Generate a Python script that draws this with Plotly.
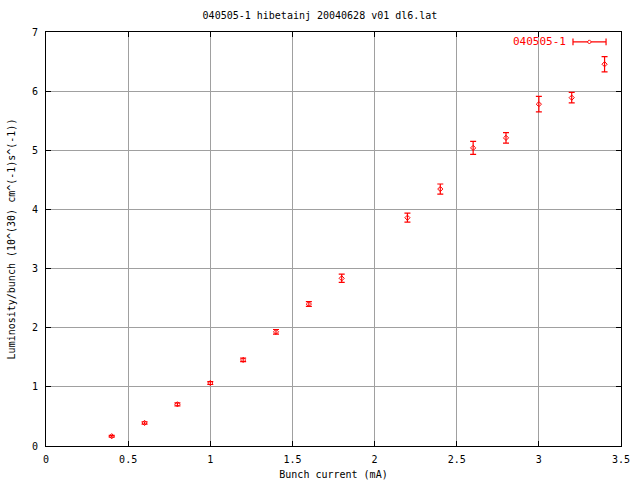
import plotly.graph_objects as go

current = [0.4, 0.6, 0.8, 1.0, 1.2, 1.4, 1.6, 1.8, 2.2, 2.4, 2.6, 2.8, 3.0, 3.2, 3.4]
lumi = [0.165, 0.39, 0.705, 1.065, 1.455, 1.93, 2.40, 2.835, 3.86, 4.345, 5.04, 5.21, 5.78, 5.89, 6.455]
err = [0.015, 0.02, 0.025, 0.025, 0.03, 0.04, 0.04, 0.07, 0.076, 0.085, 0.11, 0.09, 0.13, 0.09, 0.13]

xticks = [0, 0.5, 1, 1.5, 2, 2.5, 3, 3.5]
yticks = [0, 1, 2, 3, 4, 5, 6, 7]

FONT = "DejaVu Sans Mono"
RED = "#ff0000"

fig = go.Figure()
fig.add_trace(go.Scatter(
    x=current, y=lumi, mode="markers", name="040505-1",
    marker=dict(symbol="diamond-open", size=4, color=RED, line=dict(width=1, color=RED)),
    error_y=dict(type="data", array=err, visible=True, color=RED, thickness=1.2, width=3),
    showlegend=False, cliponaxis=False,
))

axis_common = dict(
    showline=True, linecolor="black", linewidth=1, mirror="ticks",
    ticks="inside", ticklen=5, tickcolor="black", automargin=False,
    showgrid=True, gridcolor="#a0a0a0", gridwidth=1, zeroline=False,
    tickfont=dict(family=FONT, size=10, color="black"),
)
fig.update_xaxes(range=[0, 3.5], tickvals=xticks, ticktext=[str(t) for t in xticks],
                 ticklabelstandoff=4,
                 title=dict(text="Bunch current (mA)", font=dict(family=FONT, size=10, color="black"), standoff=6),
                 **axis_common)
fig.update_yaxes(range=[0, 7], tickvals=yticks, ticktext=[str(t) for t in yticks],
                 ticklabelstandoff=5,
                 title=dict(text="Luminosity/bunch (10^(30) cm^(-1)s^(-1))", font=dict(family=FONT, size=10, color="black"), standoff=14),
                 **axis_common)

# legend-like key (gnuplot style: text then sample)
ly = 0.976
x0, x1, xm = 0.9165, 0.974, 0.945
fig.add_annotation(xref="paper", yref="paper", x=x0 - 0.008, y=ly, text="040505-1",
                   showarrow=False, xanchor="right", yanchor="middle",
                   font=dict(family=FONT, size=11, color=RED))
fig.add_shape(type="line", xref="paper", yref="paper", x0=x0, x1=x1, y0=ly, y1=ly, line=dict(color=RED, width=1.2))
for xx in (x0, x1):
    fig.add_shape(type="line", xref="paper", yref="paper", x0=xx, x1=xx, y0=ly - 0.008, y1=ly + 0.008,
                  line=dict(color=RED, width=1.2))
fig.add_shape(type="path", xref="paper", yref="paper",
              path=f"M {xm-0.0035},{ly} L {xm},{ly+0.005} L {xm+0.0035},{ly} L {xm},{ly-0.005} Z",
              line=dict(color=RED, width=1), fillcolor="white")

fig.update_layout(
    width=640, height=480,
    margin=dict(l=46, r=19, t=32, b=34, autoexpand=False),
    paper_bgcolor="white", plot_bgcolor="white",
    title=dict(text="040505-1 hibetainj 20040628 v01 dl6.lat", x=0.5, xanchor="center",
               y=0.968, yanchor="middle", font=dict(family=FONT, size=10, color="black")),
    showlegend=False,
)

fig.write_html("out.html", config={"displayModeBar": False},
               post_script="document.body.style.margin='0';document.body.style.overflow='hidden';")
